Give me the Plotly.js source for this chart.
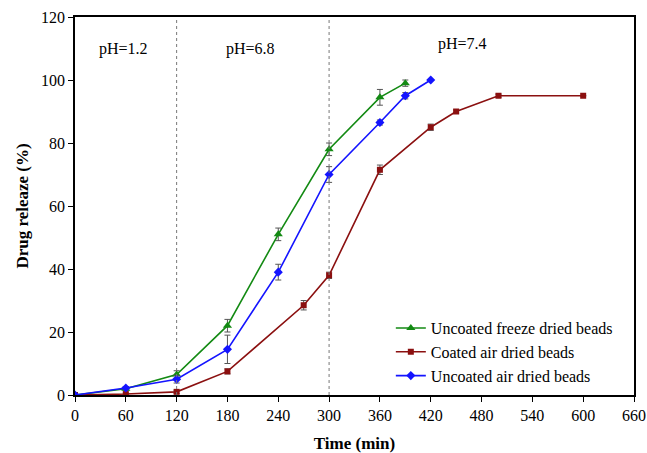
<!DOCTYPE html>
<html><head><meta charset="utf-8">
<script src="https://cdn.plot.ly/plotly-3.0.1.min.js"></script>
<style>html,body{margin:0;padding:0;background:#fff;}#c{width:647px;height:453px;}</style>
</head><body><div id="c"></div>
<script>
const names = ["Uncoated freeze dried beads", "Coated air dried beads", "Uncoated air dried beads"];
const greenX = [0, 60, 120, 180, 240, 300, 360, 390];
const greenY = [0, 2, 6.5, 22, 51, 78, 94.5, 99];
const greenErr = [0, 0.5, 1.2, 2, 2, 2, 2.5, 1];
const redX = [0, 60, 120, 180, 270, 300, 360, 420, 450, 500, 600];
const redY = [0, 0.3, 1, 7.5, 28.5, 38, 71.5, 85, 90, 95, 95];
const redErr = [0, 0.3, 0.5, 0.8, 1.5, 1, 1.5, 1, 0.5, 0.5, 0];
const blueX = [0, 60, 120, 180, 240, 300, 360, 390, 420];
const blueY = [0, 2.2, 5, 14.5, 39, 70, 86.5, 95, 100];
const blueErr = [0, 0.5, 1.2, 4.5, 2.5, 2.5, 0.8, 1, 0];
const phLines = [120, 300];
const phLabels = [{x: 57, y: 110, t: "pH=1.2"}, {x: 207, y: 110, t: "pH=6.8"}, {x: 458, y: 111.5, t: "pH=7.4"}];

const errStyle = (a) => ({type: "data", array: a, visible: true, color: "#555", thickness: 1, width: 3});
const traces = [
  {x: greenX, y: greenY, error_y: errStyle(greenErr), name: names[0], mode: "lines+markers",
   line: {color: "#138a13", width: 1.6}, marker: {symbol: "triangle-up", size: 8, color: "#138a13"}},
  {x: redX, y: redY, error_y: errStyle(redErr), name: names[1], mode: "lines+markers",
   line: {color: "#8b1010", width: 1.6}, marker: {symbol: "square", size: 6, color: "#8b1010"}},
  {x: blueX, y: blueY, error_y: errStyle(blueErr), name: names[2], mode: "lines+markers",
   line: {color: "#1414ff", width: 1.6}, marker: {symbol: "diamond", size: 7, color: "#1414ff"}}
];
const font = {family: "Liberation Serif, Times New Roman, serif", color: "#000"};
const layout = {
  width: 647, height: 453,
  margin: {l: 75, r: 13, t: 17, b: 58},
  paper_bgcolor: "#fff", plot_bgcolor: "#fff",
  font: Object.assign({size: 16}, font),
  showlegend: true,
  legend: {x: 0.565, y: 0.222, xanchor: "left", yanchor: "top", bgcolor: "rgba(0,0,0,0)",
    font: Object.assign({size: 16}, font), tracegroupgap: 0, itemwidth: 30},
  xaxis: {range: [0, 660], tickvals: [0,60,120,180,240,300,360,420,480,540,600,660],
    showgrid: false, zeroline: false, showline: true, linecolor: "#000", linewidth: 1.5, mirror: true,
    ticks: "outside", ticklen: 5, tickcolor: "#000", tickfont: Object.assign({size: 16}, font),
    title: {text: "<b>Time (min)</b>", font: Object.assign({size: 17}, font), standoff: 15}},
  yaxis: {range: [0, 120], tickvals: [0,20,40,60,80,100,120],
    showgrid: false, zeroline: false, showline: true, linecolor: "#000", linewidth: 1.5, mirror: true,
    ticks: "outside", ticklen: 5, tickcolor: "#000", tickfont: Object.assign({size: 16}, font),
    title: {text: "<b>Drug releaze (%)</b>", font: Object.assign({size: 17}, font), standoff: 8}},
  shapes: phLines.map(v => ({type: "line", xref: "x", yref: "paper", x0: v, x1: v, y0: 0, y1: 1,
    line: {color: "#777", width: 1, dash: "dot"}})),
  annotations: phLabels.map(p => ({x: p.x, y: p.y, xref: "x", yref: "y", text: p.t, showarrow: false,
    font: Object.assign({size: 16}, font)}))
};
Plotly.newPlot("c", traces, layout, {displayModeBar: false});
</script></body></html>
